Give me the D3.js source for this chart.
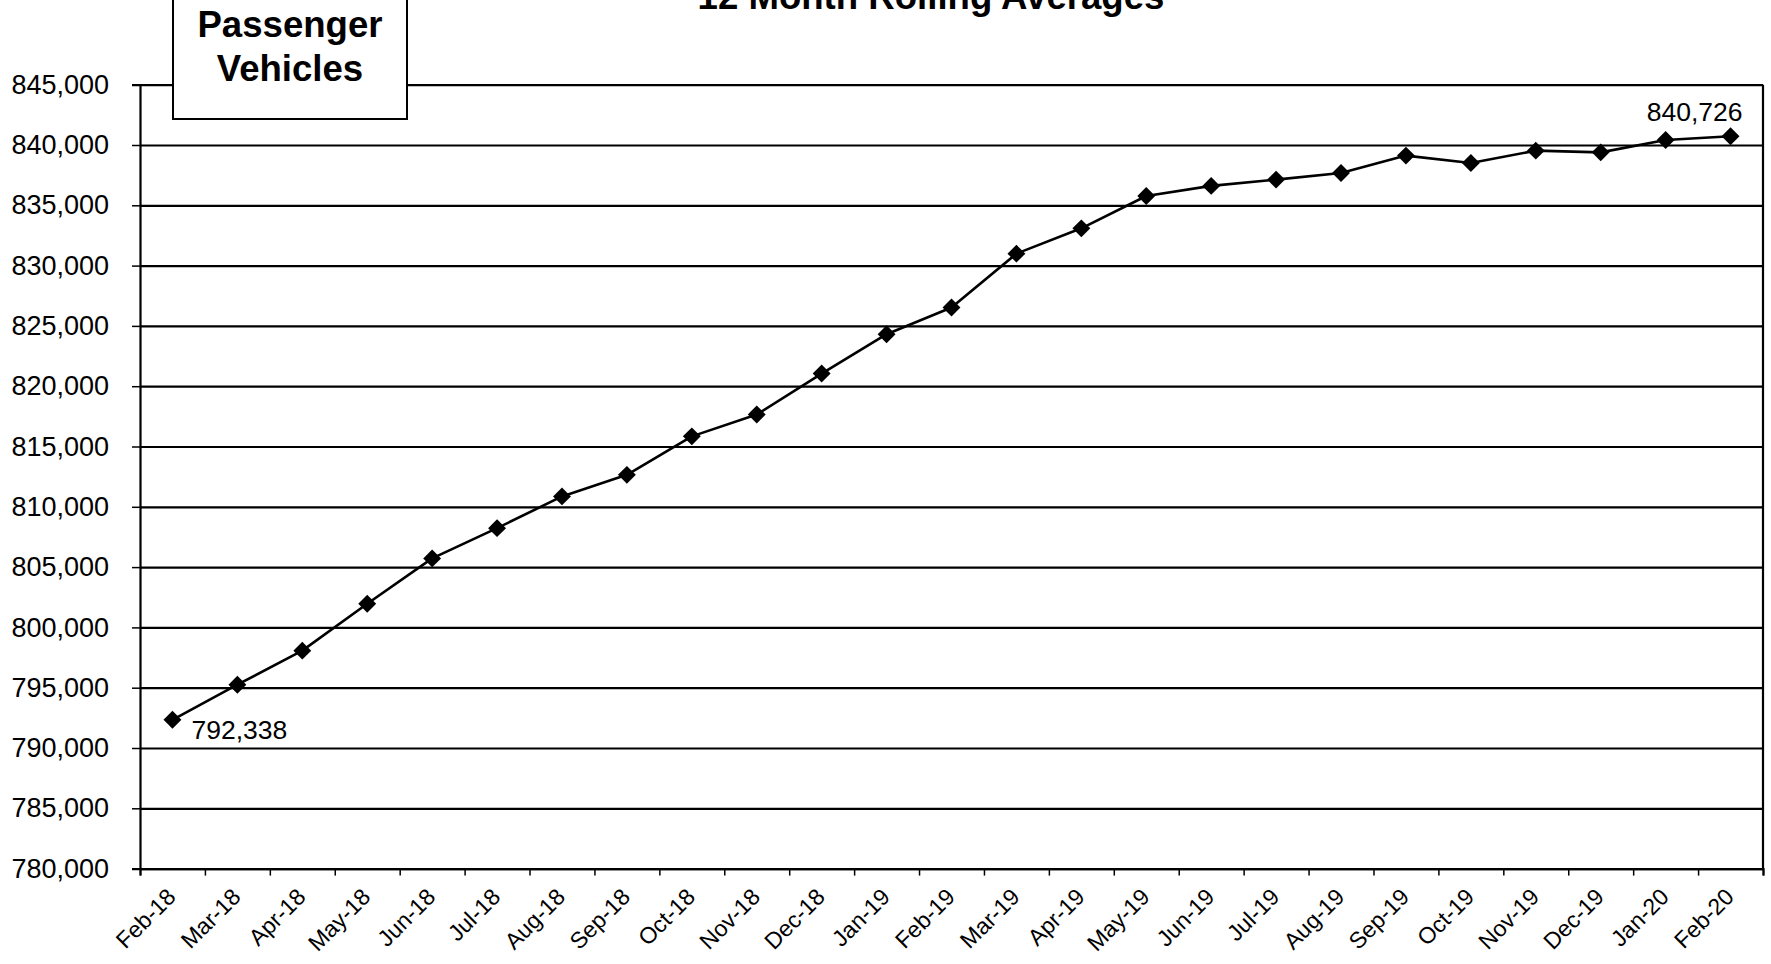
<!DOCTYPE html>
<html>
<head>
<meta charset="utf-8">
<script src="https://cdn.jsdelivr.net/npm/d3@7"></script>
<style>
  html, body { margin: 0; padding: 0; background: #fff; }
  svg { display: block; font-family: "Liberation Sans", Arial, sans-serif; }
</style>
</head>
<body>
<svg id="chart" width="1771" height="964"></svg>
<script>
// Monthly categories (x axis)
const months = ["Feb-18","Mar-18","Apr-18","May-18","Jun-18","Jul-18","Aug-18","Sep-18",
  "Oct-18","Nov-18","Dec-18","Jan-19","Feb-19","Mar-19","Apr-19","May-19","Jun-19",
  "Jul-19","Aug-19","Sep-19","Oct-19","Nov-19","Dec-19","Jan-20","Feb-20"];

// 12-month rolling average of registered passenger vehicles
const rollingAvg = [792338, 795250, 798070, 801960, 805720, 808230, 810860, 812650,
  815840, 817650, 821050, 824310, 826520, 830990, 833090, 835770, 836610,
  837130, 837680, 839120, 838510, 839530, 839390, 840410, 840726];

// Y axis ticks
const yTicks = [780000, 785000, 790000, 795000, 800000, 805000, 810000, 815000,
  820000, 825000, 830000, 835000, 840000, 845000];

const titleText = "12 Month Rolling Averages";
const boxLines = ["Passenger", "Vehicles"];

const W = 1771, H = 964;
const plot = { left: 140, right: 1763, top: 84.7, bottom: 868.6 };
const svg = d3.select("#chart");

const x = d3.scaleBand().domain(months).range([plot.left, plot.right]).padding(0);
const xEdge = d3.scaleLinear().domain([0, months.length]).range([plot.left, plot.right]);
const y = d3.scaleLinear().domain([yTicks[0], yTicks[yTicks.length - 1]])
  .range([plot.bottom, plot.top]);

// Horizontal gridlines
const grid = svg.append("g").attr("transform", `translate(${plot.left},0)`)
  .call(d3.axisLeft(y).tickValues(yTicks).tickSize(-(plot.right - plot.left)).tickFormat(""));
grid.select(".domain").remove();
grid.selectAll("line").attr("stroke", "#000").attr("stroke-width", 2.2);

// Right border of the plot area
svg.append("line")
  .attr("x1", plot.right).attr("x2", plot.right)
  .attr("y1", plot.top).attr("y2", plot.bottom)
  .attr("stroke", "#000").attr("stroke-width", 2.2);

// Y axis with labels
const yAxis = svg.append("g").attr("transform", `translate(${plot.left},0)`)
  .call(d3.axisLeft(y).tickValues(yTicks).tickSize(8).tickPadding(23)
    .tickFormat(d3.format(",")));
yAxis.select(".domain").attr("stroke", "#000").attr("stroke-width", 2.2);
yAxis.selectAll("line").attr("stroke", "#000").attr("stroke-width", 1.5);
yAxis.selectAll("text").attr("font-size", 27).attr("fill", "#000")
  .attr("font-family", "Liberation Sans, Arial, sans-serif");

// X axis: tick marks at category boundaries
const xTicks = svg.append("g").attr("transform", `translate(0,${plot.bottom})`)
  .call(d3.axisBottom(xEdge).tickValues(d3.range(months.length + 1)).tickSize(7).tickFormat(""));
xTicks.select(".domain").attr("stroke", "#000").attr("stroke-width", 2.2);
xTicks.selectAll("line").attr("stroke", "#000").attr("stroke-width", 1.5);

// X axis: rotated month labels
const xLabels = svg.append("g").attr("transform", `translate(0,${plot.bottom})`)
  .call(d3.axisBottom(x).tickSize(0));
xLabels.select(".domain").remove();
xLabels.selectAll("text")
  .attr("font-size", 23).attr("fill", "#000")
  .attr("font-family", "Liberation Sans, Arial, sans-serif")
  .attr("text-anchor", "end")
  .attr("x", -1).attr("y", 24).attr("dy", "0.35em")
  .attr("transform", "rotate(-45,-1,24)");

// Data line
const cx = d => x(d) + x.bandwidth() / 2;
const line = d3.line().x((d, i) => cx(months[i])).y(d => y(d));
svg.append("path").datum(rollingAvg)
  .attr("d", line).attr("fill", "none")
  .attr("stroke", "#000").attr("stroke-width", 2.6).attr("stroke-linejoin", "round");

// Diamond markers
const diamond = d3.symbol().type(d3.symbolSquare).size(160);
svg.append("g").selectAll("path").data(rollingAvg).join("path")
  .attr("d", diamond)
  .attr("transform", (d, i) => `translate(${cx(months[i])},${y(d)}) rotate(45)`)
  .attr("fill", "#000");

// Value labels on first and last points
const fmt = d3.format(",");
const first = 0, last = rollingAvg.length - 1;
svg.append("text")
  .attr("x", cx(months[first]) + 19).attr("y", y(rollingAvg[first]) + 19)
  .attr("font-size", 26.5).attr("fill", "#000")
  .text(fmt(rollingAvg[first]));
svg.append("text")
  .attr("x", cx(months[last]) + 12).attr("y", y(rollingAvg[last]) - 15)
  .attr("text-anchor", "end")
  .attr("font-size", 26.5).attr("fill", "#000")
  .text(fmt(rollingAvg[last]));

// Series name box
const box = { x: 173, y: -20, w: 234, h: 139 };
svg.append("rect")
  .attr("x", box.x).attr("y", box.y).attr("width", box.w).attr("height", box.h)
  .attr("fill", "#fff").attr("stroke", "#000").attr("stroke-width", 2);
svg.append("g").selectAll("text").data(boxLines).join("text")
  .attr("x", box.x + box.w / 2)
  .attr("y", (d, i) => 37 + i * 44.3)
  .attr("text-anchor", "middle")
  .attr("font-size", 36.6).attr("font-weight", "bold").attr("fill", "#000")
  .text(d => d);

// Chart title (partly above the top edge)
svg.append("text")
  .attr("x", 931).attr("y", 9)
  .attr("text-anchor", "middle")
  .attr("font-size", 36.6).attr("font-weight", "bold").attr("fill", "#000")
  .text(titleText);
</script>
</body>
</html>
